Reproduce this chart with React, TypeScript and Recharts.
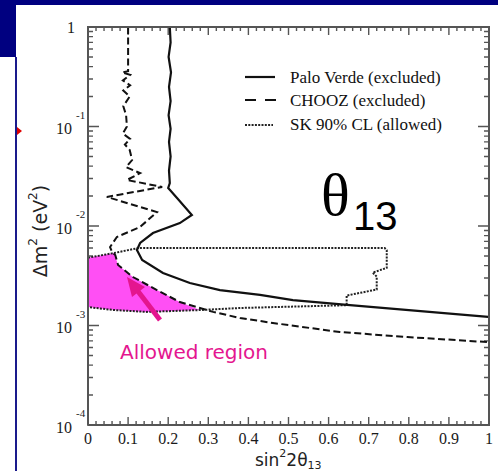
import { ScatterChart, Scatter, XAxis, YAxis } from "recharts"

// sin^2(2θ13), Δm^2 (eV^2) pairs
const paloVerde: [number, number][] = [
  [0.204, 1], [0.206, 0.7], [0.201, 0.5], [0.207, 0.35], [0.202, 0.25],
  [0.206, 0.18], [0.201, 0.13], [0.206, 0.095], [0.202, 0.07], [0.206, 0.05],
  [0.202, 0.036], [0.204, 0.027], [0.2, 0.0241], [0.222, 0.0191], [0.259, 0.0129],
  [0.229, 0.0107], [0.162, 0.0085], [0.13, 0.00675], [0.122, 0.00574],
  [0.135, 0.00455], [0.187, 0.00337], [0.254, 0.00267], [0.329, 0.00227],
  [0.429, 0.00203], [0.511, 0.0018], [0.646, 0.00161], [0.998, 0.00122],
]

const chooz: [number, number][] = [
  [0.1, 1], [0.1, 0.5], [0.1, 0.36], [0.085, 0.35], [0.105, 0.33], [0.087, 0.29],
  [0.105, 0.26], [0.088, 0.23], [0.104, 0.2], [0.088, 0.16], [0.095, 0.13],
  [0.097, 0.1], [0.087, 0.085], [0.105, 0.075], [0.092, 0.066], [0.104, 0.058],
  [0.11, 0.046], [0.095, 0.039], [0.13, 0.034], [0.097, 0.029], [0.185, 0.0247],
  [0.047, 0.0196], [0.172, 0.0138], [0.13, 0.0098], [0.072, 0.00775],
  [0.055, 0.00615], [0.06, 0.00548], [0.068, 0.0051], [0.075, 0.00406],
  [0.112, 0.00307], [0.172, 0.00227], [0.229, 0.00172], [0.279, 0.0015],
  [0.312, 0.00137], [0.379, 0.00119], [0.461, 0.00106], [0.628, 0.00086],
  [0.796, 0.000766], [1.0, 0.00068],
]

const skAllowed: [number, number][] = [
  [0, 0.0048], [0.065, 0.00535], [0.125, 0.006], [0.74, 0.006], [0.745, 0.0057],
  [0.745, 0.0038], [0.71, 0.0034], [0.72, 0.0031], [0.72, 0.0023], [0.645, 0.002],
  [0.645, 0.0016], [0.38, 0.0015], [0.28, 0.00143], [0.147, 0.00137],
  [0.065, 0.00143], [0, 0.00153], [0, 0.0048],
]

const allowedRegion: [number, number][] = [
  [0, 0.0048], [0.065, 0.00535], [0.075, 0.00406], [0.112, 0.00307],
  [0.172, 0.00227], [0.229, 0.00172], [0.279, 0.00143], [0.147, 0.00137],
  [0.065, 0.00143], [0, 0.00153],
]

const frame: [number, number][] = [[0, 1e-4], [1, 1e-4], [1, 1], [0, 1], [0, 1e-4]]

const xMajor = [0, 0.1, 0.2, 0.3, 0.4, 0.5, 0.6, 0.7, 0.8, 0.9, 1]
const xMinor = Array.from({ length: 51 }, (_, i) => i / 50)
const yDecades = [1e-4, 1e-3, 1e-2, 1e-1, 1]
const yMinor = yDecades.filter((d) => d < 1).flatMap((d) => [2, 3, 4, 5, 6, 7, 8, 9].map((k) => d * k))

const toPts = (arr: [number, number][]) => arr.map(([s, m]) => ({ s, m }))

// tick marks as zig-zag paths along the frame, in data units (log decade ≈ 99.5px, x range ≈ 401px)
const isMajorX = (v: number) => xMajor.some((m) => Math.abs(m - v) < 1e-9)
const isMajorY = (v: number) => yDecades.some((d) => Math.abs(d - v) / d < 1e-9)
const yFac = (major: boolean) => Math.pow(10, (major ? 8 : 4) / 99.5)
const xLen = (major: boolean) => (major ? 11 : 5) / 401
const yAll = [...yDecades, ...yMinor].sort((a, b) => a - b)

const bottomTicks = xMinor.flatMap((s) => [{ s, m: 1e-4 }, { s, m: 1e-4 * yFac(isMajorX(s)) }, { s, m: 1e-4 }])
const topTicks = xMinor.flatMap((s) => [{ s, m: 1 }, { s, m: 1 / yFac(isMajorX(s)) }, { s, m: 1 }])
const leftTicks = yAll.flatMap((m) => [{ s: 0, m }, { s: xLen(isMajorY(m)), m }, { s: 0, m }])
const rightTicks = yAll.flatMap((m) => [{ s: 1, m }, { s: 1 - xLen(isMajorY(m)), m }, { s: 1, m }])

const W = 498
const H = 471
const M = { top: 27, right: 9, bottom: 16, left: 48 }
const AXIS = "#555"
const SERIF = "'Liberation Serif', 'Times New Roman', serif"
const SANS = "'DejaVu Sans', Verdana, sans-serif"

const Nothing = () => <g />
const tickLineStyle = { stroke: AXIS, strokeWidth: 1.4, fill: "none" }

function renderXTick(props: any) {
  const { x, y, payload } = props
  const v = payload.value
  return (
    <text key={`xt-${v}`} x={x} y={y + 13} textAnchor="middle" dominantBaseline="central"
      fontFamily={SERIF} fontSize={16} fill="#1a1a1a">
      {v === 0 ? "0" : v === 1 ? "1" : v.toFixed(1)}
    </text>
  )
}

function renderYTick(props: any) {
  const { x, y, payload } = props
  const e = Math.round(Math.log10(payload.value))
  if (e === 0) {
    return (
      <text key="yt-0" x={x - 13} y={y} textAnchor="end" dominantBaseline="central"
        fontFamily={SERIF} fontSize={16} fill="#1a1a1a">1</text>
    )
  }
  return (
    <g key={`yt-${e}`} fontFamily={SERIF} fill="#1a1a1a">
      <text x={x - 16} y={y + 2} textAnchor="end" dominantBaseline="central" fontSize={16}>10</text>
      <text x={x - 12} y={y - 12} textAnchor="start" dominantBaseline="central" fontSize={11}>{e}</text>
    </g>
  )
}

export default function App() {
  return (
    <div style={{ position: "absolute", left: 0, top: 0, width: W, height: H, background: "#fff", overflow: "hidden" }}>
      <div style={{ position: "absolute", left: 0, top: 0, width: W, height: 5, background: "#000080" }} />
      <div style={{ position: "absolute", left: 0, top: 0, width: 16, height: 57, background: "#000080" }} />
      <div style={{ position: "absolute", left: 15, top: 57, width: 2, height: H - 57, background: "#1a1a8c" }} />

      {/* annotations sit underneath the chart layer */}
      <svg width={W} height={H} style={{ position: "absolute", left: 0, top: 0, pointerEvents: "none" }}>
        <polygon points="17,127 22,131 17,135" fill="#e00000" />

        <line x1={245} x2={275} y1={77} y2={77} stroke="#111" strokeWidth={2.2} />
        <line x1={245} x2={276} y1={100} y2={100} stroke="#111" strokeWidth={2.2} strokeDasharray="11 9" />
        <line x1={245} x2={273} y1={125} y2={125} stroke="#222" strokeWidth={2} strokeDasharray="2 1.3" />
        <g fontFamily={SERIF} fontSize={17} fill="#111">
          <text x={290} y={77} dominantBaseline="central">Palo Verde (excluded)</text>
          <text x={290} y={100} dominantBaseline="central">CHOOZ (excluded)</text>
          <text x={290} y={124} dominantBaseline="central">SK 90% CL (allowed)</text>
        </g>

        <text x={321} y={215} fontFamily={SERIF} fontSize={60} fill="#000">θ</text>
        <text x={353} y={230} fontFamily="'Liberation Sans', Arial, sans-serif" fontSize={40} fill="#000">13</text>

        <text x={120} y={352} dominantBaseline="central" fontFamily={SANS} fontSize={20} fill="#e4168f">Allowed region</text>

        <text transform="translate(40,231) rotate(-90)" textAnchor="middle" dominantBaseline="central"
          fontFamily={SANS} fontSize={19} fill="#222">
          Δm<tspan fontSize={12} dy={-7}>2</tspan><tspan dy={7}> (eV</tspan><tspan fontSize={12} dy={-7}>2</tspan><tspan dy={7}>)</tspan>
        </text>
        <text x={255} y={460} dominantBaseline="central" fontFamily={SANS} fontSize={17} fill="#222">
          sin<tspan fontSize={11} dy={-7}>2</tspan><tspan dy={7}>2θ</tspan><tspan fontSize={11} dy={5}>13</tspan>
        </text>
      </svg>

      <div style={{ position: "absolute", left: 0, top: 0 }}>
        <ScatterChart width={W} height={H} margin={M}>
          <XAxis dataKey="s" type="number" domain={[0, 1]} ticks={xMajor} interval={0}
            height={30} tickSize={0} tickMargin={0} axisLine={false} tickLine={false} tick={renderXTick} />
          <YAxis dataKey="m" type="number" scale="log" domain={[1e-4, 1]} ticks={yDecades}
            interval={0} width={40} tickSize={0} tickMargin={0} axisLine={false} tickLine={false} tick={renderYTick} />
          <Scatter data={bottomTicks} fill={AXIS} shape={Nothing} isAnimationActive={false} line={tickLineStyle} />
          <Scatter data={topTicks} fill={AXIS} shape={Nothing} isAnimationActive={false} line={tickLineStyle} />
          <Scatter data={leftTicks} fill={AXIS} shape={Nothing} isAnimationActive={false} line={tickLineStyle} />
          <Scatter data={rightTicks} fill={AXIS} shape={Nothing} isAnimationActive={false} line={tickLineStyle} />
          <Scatter data={toPts(allowedRegion)} fill="#ff4ff4" shape={Nothing} isAnimationActive={false}
            line={{ stroke: "none", fill: "#ff4ff4" }} />
          <Scatter data={toPts(skAllowed)} fill="#111" shape={Nothing} isAnimationActive={false}
            line={{ stroke: "#222", strokeWidth: 2, strokeDasharray: "2 1.3", fill: "none" }} />
          <Scatter data={toPts(chooz)} fill="#111" shape={Nothing} isAnimationActive={false}
            line={{ stroke: "#111", strokeWidth: 2, strokeDasharray: "7 3.5", fill: "none" }} />
          <Scatter data={toPts(paloVerde)} fill="#111" shape={Nothing} isAnimationActive={false}
            line={{ stroke: "#111", strokeWidth: 2.2, fill: "none" }} />
          <Scatter data={toPts(frame)} fill={AXIS} shape={Nothing} isAnimationActive={false}
            line={{ stroke: AXIS, strokeWidth: 2, fill: "none" }} />
        </ScatterChart>
      </div>

      {/* arrow pointing at the allowed region, drawn above the fill */}
      <svg width={50} height={60} style={{ position: "absolute", left: 120, top: 270, pointerEvents: "none" }}>
        <line x1={40} y1={50} x2={17} y2={20} stroke="#e4168f" strokeWidth={5} />
        <polygon points="7,7 25,17 12,27" fill="#e4168f" />
      </svg>
    </div>
  )
}
